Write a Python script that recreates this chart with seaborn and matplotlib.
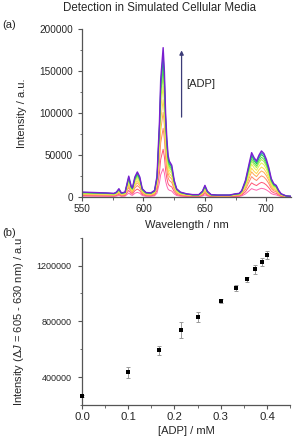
import numpy as np
import pandas as pd
import matplotlib
matplotlib.use('Agg')
import matplotlib.pyplot as plt
from matplotlib.ticker import MultipleLocator, FormatStrFormatter
import seaborn as sns

# top spectrum (highest [ADP])
wavelength = [550, 560, 570, 576, 578, 580, 582, 585, 588, 590, 591, 593, 595, 597, 599,
              602, 606, 609, 611, 613, 614, 616, 617, 618, 619, 620, 621, 623, 625, 627, 630,
              635, 640, 645, 648, 650, 652, 655, 660, 670, 675, 678, 680, 683, 686, 688, 690,
              692, 694, 696, 698, 700, 702, 704, 706, 708, 710, 712, 716, 720]
top_spectrum = [6000, 5500, 5000, 4500, 6000, 10000, 5000, 6000, 25000, 13000, 11000, 24000,
                30000, 24000, 10000, 5500, 5000, 8000, 25000, 90000, 140000, 178000, 150000,
                100000, 70000, 50000, 43000, 38000, 20000, 10000, 6000, 4000, 3000, 3000, 7000,
                14000, 7000, 3000, 2500, 2500, 4000, 4500, 8000, 20000, 40000, 53000, 47000,
                43000, 50000, 55000, 52000, 45000, 35000, 22000, 16000, 14000, 8000, 4000,
                1500, 1000]
# 616 nm peak height of each trace (low -> high [ADP])
peak_616 = [34000, 57000, 82000, 101000, 116000, 132000, 145000, 154000, 164000, 171000, 178000]
trace_colors = ['#ff66b0', '#ff5577', '#ff8866', '#ffaa55', '#ffd84a', '#e8f050',
                '#b0ee50', '#60e050', '#20d040', '#2080c0', '#7a1fd0']

# panel (b)
adp_mM = [0.0, 0.1, 0.1667, 0.2143, 0.25, 0.3, 0.3333, 0.3571, 0.375, 0.3889, 0.4]
intensity = [266000, 433000, 591000, 737000, 831000, 946000, 1039000, 1101000, 1173000, 1226000, 1276000]
intensity_err = [8000, 41000, 33000, 55000, 37000, 12000, 24000, 16000, 33000, 30000, 30000]

sns.set_style('ticks')
plt.rcParams['font.family'] = ['Liberation Sans', 'DejaVu Sans']
plt.rcParams['mathtext.fontset'] = 'custom'
plt.rcParams['mathtext.it'] = 'Liberation Sans:italic'
plt.rcParams['mathtext.rm'] = 'Liberation Sans'
plt.rcParams['font.size'] = 8

fig = plt.figure(figsize=(2.93, 4.42), dpi=100)
ax1 = fig.add_axes([0.280, 0.554, 0.713, 0.380])
ax2 = fig.add_axes([0.280, 0.084, 0.710, 0.378])

# build long table of spectra
rows = []
top = np.array(top_spectrum, dtype=float)
for i, p in enumerate(peak_616):
    for w, v in zip(wavelength, top * p / max(peak_616)):
        rows.append({'wl': w, 'I': v, 'trace': i})
df = pd.DataFrame(rows)

sns.lineplot(data=df, x='wl', y='I', hue='trace', palette=trace_colors,
             estimator=None, legend=False, linewidth=0.7, ax=ax1)
ax1.lines[-1].set_linewidth(1.0)

ax1.set_xlim(550, 720)
ax1.set_ylim(0, 200000)
ax1.xaxis.set_major_locator(MultipleLocator(50))
ax1.xaxis.set_minor_locator(MultipleLocator(25))
ax1.yaxis.set_major_locator(MultipleLocator(50000))
ax1.yaxis.set_minor_locator(MultipleLocator(25000))
ax1.set_xlabel('Wavelength / nm', fontsize=8, labelpad=4)
ax1.set_ylabel('Intensity / a.u.', fontsize=8)
ax1.yaxis.set_label_coords(-0.263, 0.5)
ax1.annotate('', xy=(631, 178000), xytext=(631, 92000),
             arrowprops=dict(arrowstyle='-|>', color='#3c3c78', lw=0.9, mutation_scale=6))
ax1.text(635, 135000, '[ADP]', fontsize=8, va='center', ha='left')

# panel (b)
ax2.errorbar(adp_mM, intensity, yerr=intensity_err, fmt='none', ecolor='#999999',
             elinewidth=0.7, capsize=1.5, capthick=0.7)
sns.scatterplot(x=adp_mM, y=intensity, marker='s', color='black', s=10,
                edgecolor='black', linewidth=0, ax=ax2, zorder=3, clip_on=False)
ax2.set_xlim(0, 0.45)
ax2.set_ylim(200000, 1400000)
ax2.xaxis.set_major_locator(MultipleLocator(0.1))
ax2.xaxis.set_minor_locator(MultipleLocator(0.05))
ax2.yaxis.set_major_locator(MultipleLocator(400000))
ax2.yaxis.set_minor_locator(MultipleLocator(200000))
ax2.xaxis.set_major_formatter(FormatStrFormatter('%.1f'))
ax2.yaxis.set_major_formatter(FormatStrFormatter('%d'))
ax2.set_xlabel('[ADP] / mM', fontsize=8, labelpad=3)
ax2.set_ylabel('Intensity (Δ$\\it{J}$ = 605 - 630 nm) / a.u', fontsize=8)
ax2.yaxis.set_label_coords(-0.27, 0.5)

for ax in (ax1, ax2):
    sns.despine(ax=ax)
    for s in ('left', 'bottom'):
        ax.spines[s].set_color('#555555')
        ax.spines[s].set_linewidth(0.9)
    ax.tick_params(which='major', direction='out', length=3, width=0.8, color='#555555')
    ax.tick_params(which='minor', direction='out', length=1.8, width=0.6, color='#555555')

ax1.tick_params(axis='x', labelsize=7.2, pad=2)
ax1.tick_params(axis='y', labelsize=7.2, pad=3.5)
ax2.tick_params(axis='x', labelsize=8.2, pad=2)
ax2.tick_params(axis='y', labelsize=6.5, pad=4.5)

fig.text(0.546, 0.982, 'Detection in Simulated Cellular Media', ha='center', va='center', fontsize=8.3)
fig.text(0.007, 0.943, '(a)', fontsize=8, va='center')
fig.text(0.007, 0.473, '(b)', fontsize=8, va='center')

fig.savefig('out.png', dpi=100)
